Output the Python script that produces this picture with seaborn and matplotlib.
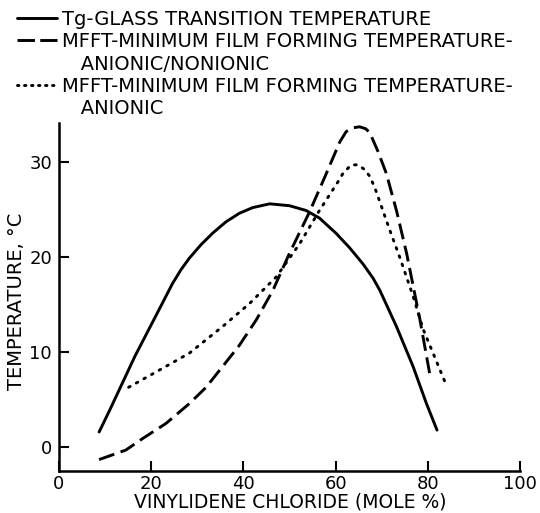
import matplotlib
matplotlib.use("Agg")
import matplotlib.pyplot as plt
import seaborn as sns
from matplotlib.lines import Line2D

# ---- data ----
tg_x = [8.7, 11.0, 13.8, 16.5, 19.6, 22.8, 24.6, 26.5, 28.3, 30.8, 33.3, 36.2, 39.1, 42.0,
        45.7, 50.0, 53.6, 56.5, 60.1, 63.0, 65.9, 68.1, 69.6, 73.2, 76.8, 79.7, 82.0]
tg_y = [1.6, 3.9, 6.8, 9.6, 12.5, 15.5, 17.2, 18.7, 19.9, 21.3, 22.5, 23.7, 24.6, 25.2,
        25.6, 25.4, 24.9, 24.1, 22.5, 21.0, 19.3, 17.8, 16.5, 12.7, 8.5, 4.6, 1.8]

an_non_x = [8.7, 14.5, 18.1, 23.2, 28.3, 31.9, 35.5, 39.1, 42.8, 46.4, 50.0, 54.3, 58.0, 59.4,
            60.9, 62.3, 63.8, 65.2, 66.5, 67.4, 69.2, 71.0, 73.2, 75.4, 78.3, 80.5]
an_non_y = [-1.3, -0.3, 0.9, 2.5, 4.6, 6.3, 8.5, 10.7, 13.4, 16.5, 20.4, 24.7, 28.8, 30.4,
            32.1, 33.2, 33.6, 33.7, 33.5, 33.1, 31.1, 28.8, 24.9, 20.4, 13.4, 7.5]

an_x = [15.1, 21.0, 28.3, 35.5, 41.3, 47.1, 52.2, 56.5, 60.5, 61.6, 63.4, 64.9, 66.3, 67.4,
        68.5, 69.6, 71.7, 73.9, 76.8, 79.0, 83.7]
an_y = [6.3, 7.9, 9.9, 12.7, 15.1, 17.9, 21.4, 24.9, 27.9, 28.8, 29.7, 29.7, 29.2, 28.5,
        27.3, 25.8, 22.9, 20.0, 15.9, 12.4, 6.9]

x_ticks = [0, 20, 40, 60, 80, 100]
y_ticks = [0, 10, 20, 30]
x_label = "VINYLIDENE CHLORIDE (MOLE %)"
y_label = "TEMPERATURE, °C"
legend_lines = [
    "Tg-GLASS TRANSITION TEMPERATURE",
    "MFFT-MINIMUM FILM FORMING TEMPERATURE-",
    "   ANIONIC/NONIONIC",
    "MFFT-MINIMUM FILM FORMING TEMPERATURE-",
    "   ANIONIC",
]

sns.set_theme(style="ticks")
plt.rcParams["font.family"] = ["DejaVu Sans"]
plt.rcParams["text.color"] = "black"
plt.rcParams["axes.labelcolor"] = "black"

fig = plt.figure(figsize=(5.40, 5.13), dpi=100)
ax = fig.add_axes([59 / 540, (513 - 471) / 513, 461 / 540, (471 - 123) / 513])

lw = 2.1
dash_pat = (5.5, 2.3)
dot_pat = (0.6, 2.4)
sns.lineplot(x=tg_x, y=tg_y, ax=ax, color="black", lw=lw, sort=False)
sns.lineplot(x=an_non_x, y=an_non_y, ax=ax, color="black", lw=lw, sort=False)
ax.lines[-1].set_dashes(dash_pat)
sns.lineplot(x=an_x, y=an_y, ax=ax, color="black", lw=lw, sort=False)
ax.lines[-1].set_dashes(dot_pat)
ax.lines[-1].set_dash_capstyle("round")

ax.set_xlim(0, 100)
ax.set_ylim(-2.5, 34.1)
ax.set_xticks(x_ticks)
ax.set_yticks(y_ticks)
ax.tick_params(direction="in", length=7, width=1.5, labelsize=13, colors="black")
ax.tick_params(axis="x", pad=3)
ax.tick_params(axis="y", pad=5)
for s in ["top", "right"]:
    ax.spines[s].set_visible(False)
for s in ["left", "bottom"]:
    ax.spines[s].set_linewidth(1.8)
    ax.spines[s].set_color("black")

ax.set_xlabel(x_label, fontsize=13.5, color="black")
ax.set_ylabel(y_label, fontsize=14, color="black")
ax.xaxis.set_label_coords((290 - 59) / 461, -(508 - 471) / 348)
ax.xaxis.label.set_va("baseline")
ax.yaxis.set_label_coords(-(59 - 17) / 461, (471 - 301) / 348)
ax.yaxis.label.set_va("center")

handles = [
    Line2D([], [], color="black", lw=lw),
    Line2D([], [], color="black", lw=lw, dashes=(6.0, 1.8)),
    Line2D([], [], color="none"),
    Line2D([], [], color="black", lw=lw, dashes=(0.5, 1.9), dash_capstyle="round"),
    Line2D([], [], color="none"),
]
fig.legend(handles, legend_lines, loc="upper left", bbox_to_anchor=(17 / 540, 1 - 10 / 513),
           frameon=False, fontsize=14, handlelength=2.06, handletextpad=0.26,
           labelspacing=0.17, borderaxespad=0, borderpad=0, labelcolor="black")

fig.savefig("out.png", dpi=100)
